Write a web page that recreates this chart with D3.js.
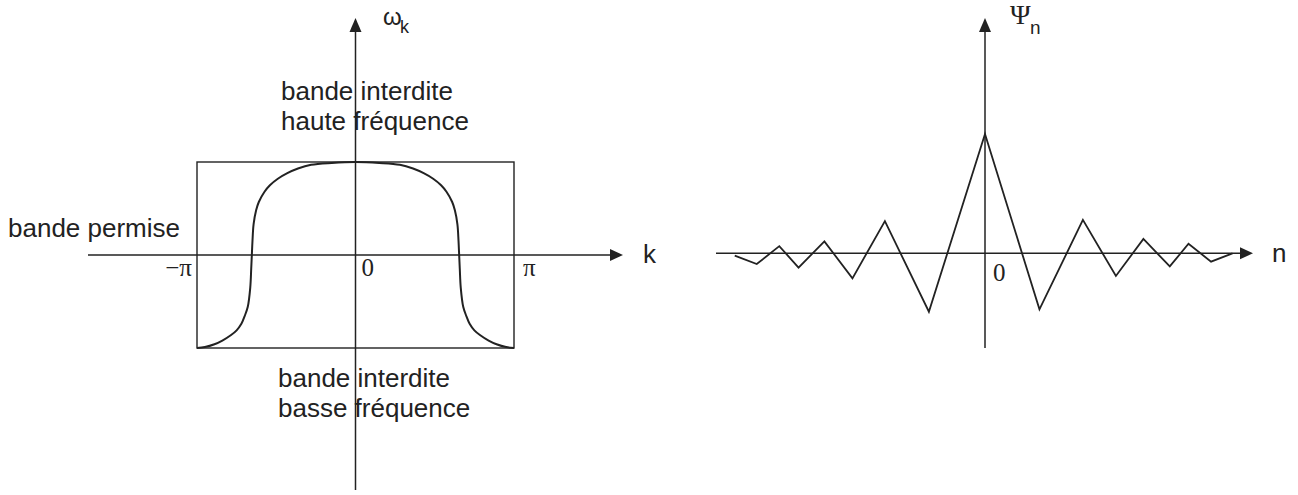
<!DOCTYPE html>
<html>
<head>
<meta charset="utf-8">
<script src="https://cdn.jsdelivr.net/npm/d3@7"></script>
<style>
  body { margin: 0; background: #fff; }
  svg text { fill: #222; }
</style>
</head>
<body>
<svg width="1298" height="495"></svg>
<script>
// dispersion curve, left panel (k in units of pi, omega normalised)
const kVals = [-1.0, -0.95, -0.89, -0.84, -0.785, -0.75, -0.72, -0.70, -0.68, -0.664, -0.658, -0.654, -0.65, -0.643, -0.627, -0.61, -0.574, -0.54, -0.49, -0.43, -0.363, -0.28, -0.15,
  0, 0.15, 0.28, 0.363, 0.43, 0.49, 0.54, 0.574, 0.61, 0.627, 0.643, 0.65, 0.654, 0.658, 0.664, 0.68, 0.70, 0.72, 0.75, 0.785, 0.84, 0.89, 0.95, 1.0];
const omegaVals = [-1.0, -0.99, -0.96, -0.92, -0.86, -0.81, -0.74, -0.66, -0.56, -0.35, -0.15, 0, 0.15, 0.33, 0.48, 0.57, 0.68, 0.75, 0.82, 0.88, 0.93, 0.97, 0.99,
  1.0, 0.99, 0.97, 0.93, 0.88, 0.82, 0.75, 0.68, 0.57, 0.48, 0.33, 0.15, 0, -0.15, -0.35, -0.56, -0.66, -0.74, -0.81, -0.86, -0.92, -0.96, -0.99, -1.0];

// localised mode, right panel
const nPos = [-4.55, -4.15, -3.74, -3.39, -2.92, -2.41, -1.82, -1.02, 0, 0.99, 1.78, 2.38, 2.88, 3.36, 3.70, 4.11, 4.50];
const psiVals = [-0.02, -0.09, 0.06, -0.12, 0.10, -0.21, 0.27, -0.49, 1.0, -0.47, 0.28, -0.19, 0.12, -0.11, 0.08, -0.07, 0.0];

const kTicks = ['\u2212\u03c0', '0', '\u03c0'];

const svg = d3.select('svg');
const ink = '#222';
const sans = 'Liberation Sans, Arial, sans-serif';
const serif = 'Liberation Serif, Times New Roman, serif';

function arrowUp(g, x, y) {
  g.append('path').attr('d', `M${x},${y} L${x - 6},${y + 14} L${x + 6},${y + 14} Z`).attr('fill', ink);
}
function arrowRight(g, x, y) {
  g.append('path').attr('d', `M${x},${y} L${x - 13},${y - 6} L${x - 13},${y + 6} Z`).attr('fill', ink);
}
function label(g, x, y, txt, size, font, anchor) {
  return g.append('text').attr('x', x).attr('y', y)
    .attr('font-size', size + 'px').attr('font-family', font)
    .attr('text-anchor', anchor || 'start').text(txt);
}

// ---- left panel
const left = svg.append('g');
const xL = d3.scaleLinear().domain([-1, 1]).range([197, 514]);
const yL = d3.scaleLinear().domain([-1, 1]).range([348, 162]);

left.append('rect')
  .attr('x', xL(-1)).attr('y', yL(1))
  .attr('width', xL(1) - xL(-1)).attr('height', yL(-1) - yL(1))
  .attr('fill', 'none').attr('stroke', ink).attr('stroke-width', 1.4);

left.append('line').attr('x1', 88).attr('x2', 612).attr('y1', yL(0)).attr('y2', yL(0))
  .attr('stroke', ink).attr('stroke-width', 1.5);
arrowRight(left, 623, yL(0));
left.append('line').attr('x1', xL(0)).attr('x2', xL(0)).attr('y1', 30).attr('y2', 490)
  .attr('stroke', ink).attr('stroke-width', 1.5);
arrowUp(left, xL(0), 18);

const curve = d3.line()
  .x((d, i) => xL(kVals[i]))
  .y(d => yL(d))
  .curve(d3.curveCatmullRom.alpha(0.5));
left.append('path').datum(omegaVals)
  .attr('d', curve).attr('fill', 'none').attr('stroke', ink).attr('stroke-width', 2);

label(left, xL(-1) - 5, 276, kTicks[0], 25, serif, 'end');
label(left, xL(0) + 6, 276, kTicks[1], 25, serif);
label(left, xL(1) + 9, 276, kTicks[2], 25, serif);

label(left, 643, 263, 'k', 26, sans);
label(left, 383, 25, '\u03c9', 24, sans);
label(left, 400, 33, 'k', 18, sans);
label(left, 8, 237, 'bande permise', 26, sans);
label(left, 281, 100, 'bande interdite', 26, sans);
label(left, 281, 130, 'haute fr\u00e9quence', 26, sans);
label(left, 278, 387, 'bande interdite', 26, sans);
label(left, 278, 417, 'basse fr\u00e9quence', 26, sans);

// ---- right panel
const right = svg.append('g');
const xR = d3.scaleLinear().domain([0, 1]).range([985, 1040]);
const yR = d3.scaleLinear().domain([0, 1]).range([253.3, 134]);

right.append('line').attr('x1', 716).attr('x2', 1242).attr('y1', yR(0)).attr('y2', yR(0))
  .attr('stroke', ink).attr('stroke-width', 1.5);
arrowRight(right, 1253, yR(0));
right.append('line').attr('x1', xR(0)).attr('x2', xR(0)).attr('y1', 30).attr('y2', 348)
  .attr('stroke', ink).attr('stroke-width', 1.5);
arrowUp(right, xR(0), 18);

const zig = d3.line()
  .x((d, i) => xR(nPos[i]))
  .y(d => yR(d));
right.append('path').datum(psiVals)
  .attr('d', zig).attr('fill', 'none').attr('stroke', ink).attr('stroke-width', 1.8)
  .attr('stroke-linejoin', 'miter');

label(right, 993, 281, '0', 25, serif);
label(right, 1272, 262, 'n', 26, sans);
label(right, 1010, 24, '\u03a8', 28, serif);
label(right, 1030, 34, 'n', 19, sans);
</script>
</body>
</html>
